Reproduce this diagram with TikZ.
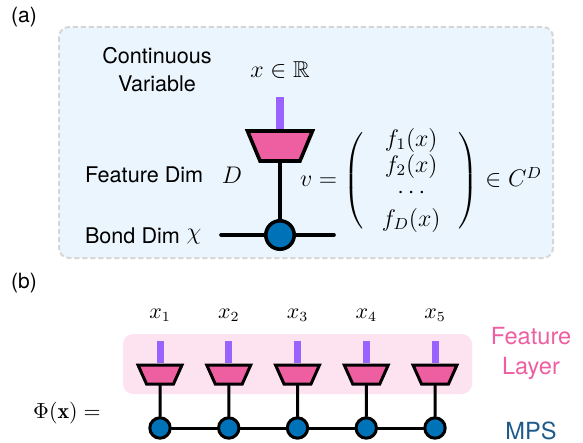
\documentclass[tikz,border=0pt]{standalone}
\usepackage{fontspec}
\usepackage{amsmath,amssymb}
\setsansfont{TeX Gyre Heros}
\usepackage{tikz}
\usetikzlibrary{positioning, shapes.geometric, calc}
\definecolor{tnBlue}{HTML}{0072B8}
\definecolor{tnPink}{HTML}{EE5FA1}
\definecolor{tnPurple}{HTML}{9A62FF}
\definecolor{tnSky}{HTML}{EAF5FD}
\definecolor{tnRose}{HTML}{FDE2F0}
\definecolor{tnGrey}{HTML}{D6D6D6}
\definecolor{tnNavy}{HTML}{1D5A8A}
\tikzset{
  panel/.style={
    draw=tnGrey, fill=tnSky, line width=1pt,
    dash pattern=on 2.5pt off 1.5pt,
    rounded corners=5pt
  },
  layerbox/.style={
    fill=tnRose, draw=none, rounded corners=5pt
  },
  embed/.style={
    trapezium, trapezium left angle=72.5, trapezium right angle=72.5,
    trapezium stretches=true, shape border rotate=180,
    draw=black, fill=tnPink, inner sep=0pt
  },
  leg/.style={
    rectangle, fill=tnPurple, draw=none, inner sep=0pt
  },
  core/.style={
    circle, draw=black, fill=tnBlue, inner sep=0pt
  },
  bond/.style={draw=black, line cap=round},
  lbl/.style={font=\sffamily\fontsize{10.8}{13}\selectfont, align=center},
  tag/.style={font=\sffamily\fontsize{10.5}{12}\selectfont}
}
\newcommand{\tnDot}{\phantom{\rule{1pt}{1pt}}}

\begin{document}
\begin{tikzpicture}[x=0.5pt, y=-0.5pt]
        \useasboundingbox (0,0) rectangle (583,443);
        % (a) one site
        \node[tag] (taga) at (24,17) {(a)};
        \draw[panel] (59,27) rectangle (553,258);
        \node[lbl] (cvar) at (157,70) {Continuous\\[1pt]Variable};
        \node[font=\fontsize{11.5}{14}\selectfont] (xin) at (280,70) {$x\in\mathbb{R}$};
        \node[embed, line width=1.8pt, minimum width=32.5pt, minimum height=15pt] (emb) at (280,146) {\tnDot};
        \node[leg, minimum width=4pt, minimum height=16pt, anchor=south] (legA) at (emb.north) {};
        \node[core, line width=1.8pt, minimum size=14.2pt] (site) at (280,235) {};
        \coordinate (bl) at (221,235);
        \coordinate (br) at (334,235);
        \draw[bond, line width=1.8pt] (emb.south) -- (site.north);
        \draw[bond, line width=1.8pt] (bl) -- (site.west);
        \draw[bond, line width=1.8pt] (site.east) -- (br);
        \node[lbl, anchor=west] (fdim) at (78,175) {Feature Dim};
        \node[font=\fontsize{12}{14}\selectfont] (dd) at (232,175) {$D$};
        \node[lbl, anchor=west] (bdim) at (78,236) {Bond Dim};
        \node[font=\fontsize{12}{14}\selectfont] (chi) at (194,237) {$\chi$};
        \node[font=\fontsize{11.5}{13}\selectfont] (vec) at (421,181)
          {$v=\left(\begin{array}{@{\hspace{9pt}}c@{\hspace{9pt}}}
             f_1(x)\\ f_2(x)\\ \cdots\\[1pt] f_D(x)
           \end{array}\right)\in C^D$};
        % (b) feature layer + MPS
        \node[tag] (tagb) at (24,283) {(b)};
        \fill[layerbox] (123,334) rectangle (472,394);
        \node[font=\fontsize{11}{13}\selectfont] (phi) at (67,413) {$\Phi(\mathbf{x})=$};
        \foreach \i in {1,...,5} {
          \pgfmathsetmacro{\xx}{160+68.75*(\i-1)}
          \node[font=\fontsize{10.5}{12}\selectfont] (x\i) at (\xx,315) {$x_{\i}$};
          \node[embed, line width=1.5pt, minimum width=22pt, minimum height=9.5pt] (e\i) at (\xx,374.5) {\tnDot};
          \node[leg, minimum width=3.5pt, minimum height=11pt, anchor=south] (l\i) at (e\i.north) {};
          \node[core, line width=1.5pt, minimum size=10.2pt] (m\i) at (\xx,428) {};
          \draw[bond, line width=1.5pt] (e\i.south) -- (m\i.north);
        }
        \foreach \i/\j in {1/2, 2/3, 3/4, 4/5}
          \draw[bond, line width=1.5pt] (m\i.east) -- (m\j.west);
        \node[lbl, text=tnPink, font=\sffamily\fontsize{11.8}{14}\selectfont] (flay) at (531,353) {Feature\\[1pt]Layer};
        \node[lbl, text=tnNavy, font=\sffamily\fontsize{11.8}{14}\selectfont] (mps) at (531,431) {MPS};
      \end{tikzpicture}
\end{document}
